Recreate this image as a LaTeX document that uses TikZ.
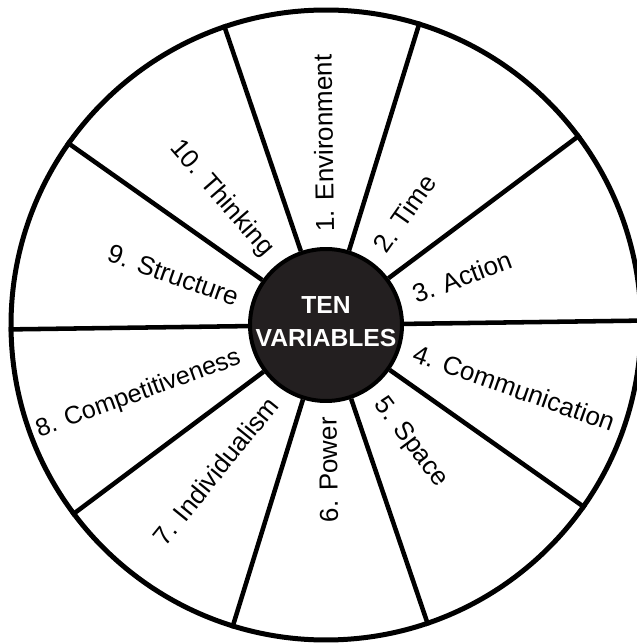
\documentclass[tikz,border=0pt]{standalone}
\usepackage{fontspec}
\setmainfont{Liberation Sans}
\definecolor{hubgray}{HTML}{231F20}
\begin{document}
\begin{tikzpicture}[x=0.75pt,y=0.75pt,
  rim/.style={circle,draw=black,line width=3.75pt,minimum size=472.5pt,inner sep=0pt,rotate=0.8},
  hub/.style={circle,draw=black,fill=hubgray,line width=3pt,minimum size=114pt,inner sep=0pt,rotate=0.8},
  title/.style={text=white,align=center,inner sep=0pt,font=\bfseries\fontsize{18.5}{24.75}\selectfont},
  spoke/.style={line width=3.4pt,line cap=butt},
  lbl/.style={inner sep=0pt,font=\fontsize{19.5}{23}\selectfont,text height=14pt,text depth=0pt},
  narrowlbl/.style={lbl,font=\fontsize{18.8}{23}\selectfont}]
\useasboundingbox (0,0) rectangle (636,643);
\coordinate (c) at (326,318);
% outer wheel and central hub
\node[rim] (wheel) at (c) {};
\node[hub] (core) at (c) {};
\node[title] (heading) at ([yshift=2.5]c) {TEN\\VARIABLES};
% ten spokes dividing the wheel
\foreach \k in {0,36,...,324}{
  \draw[spoke] (core.\k) -- (wheel.\k);
}
% segment labels, read outward on the right and inward on the left
\node[lbl,anchor=west,rotate=90.8]  (v1)  at ([shift={(90.8:93)}]c)   {1. Environment};
\node[lbl,anchor=west,rotate=55]    (v2)  at ([shift={(54.8:92)}]c)   {2. Time};
\node[lbl,anchor=west,rotate=20.5]  (v3)  at ([shift={(18.8:92)}]c)   {3. Action};
\node[lbl,anchor=west,rotate=-19.5] (v4)  at ([shift={(-17.2:92)}]c)  {4. Communication};
\node[lbl,anchor=west,rotate=-53]   (v5)  at ([shift={(-53.2:92)}]c)  {5. Space};
\node[lbl,anchor=east,rotate=90.8]  (v6)  at ([shift={(-89.2:92)}]c)  {6. Power};
\node[lbl,anchor=east,rotate=51]    (v7)  at ([shift={(-125.2:92)}]c) {7. Individualism};
\node[narrowlbl,anchor=east,rotate=20] (v8) at ([shift={(-161.2:92)}]c) {8. Competitiveness};
\node[lbl,anchor=east,rotate=-19.5] (v9)  at ([shift={(162.8:92)}]c)  {9. Structure};
\node[lbl,anchor=east,rotate=-49]   (v10) at ([shift={(126.8:92)}]c)  {10. Thinking};
\end{tikzpicture}
\end{document}
